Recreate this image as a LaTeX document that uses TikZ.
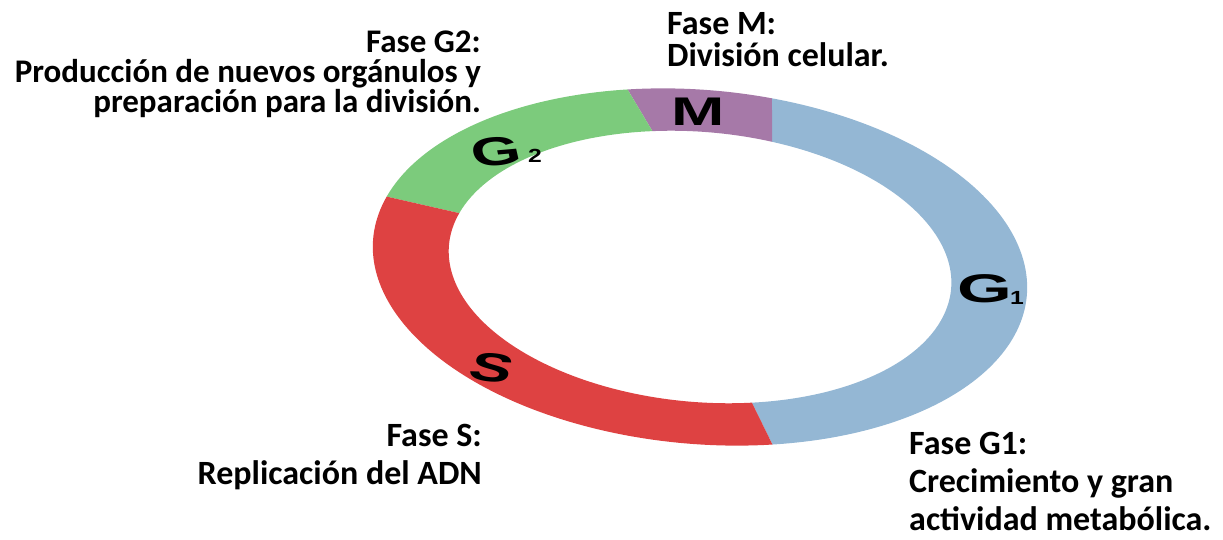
\documentclass[tikz,border=0pt]{standalone}
\usepackage{fontspec}
\setmainfont{Carlito}
\newfontfamily\ringfont{Liberation Sans}
\usetikzlibrary{positioning}

\definecolor{faseG1}{RGB}{148,183,212}
\definecolor{faseM}{RGB}{166,121,168}
\definecolor{faseG2}{RGB}{124,203,124}
\definecolor{faseS}{RGB}{222,66,66}

\tikzset{
  fasetext/.style={font=\bfseries\fontsize{34}{38}\selectfont, inner sep=0pt},
  ringletter/.style={font=\ringfont\bfseries\fontsize{40}{40}\selectfont, xscale=1.6, inner sep=0pt},
  ringindex/.style={font=\ringfont\bfseries\fontsize{19}{19}\selectfont, xscale=1.3, inner sep=0pt},
}

\begin{document}
\begin{tikzpicture}[x=1pt,y=1pt]
\useasboundingbox (0,0) rectangle (1223,540);

% the ring: outer start/end, inner start/end
\begin{scope}[shift={(700,273)}, rotate=-5]
  \foreach \s/\e/\si/\ei/\col in {-74.5/80/-75.4/76/faseG1, 80/105.5/76/103.6/faseM,
                                 105.5/166/103.6/166/faseG2, 166/285.5/166/284.6/faseS}
    \fill[\col] (\s:328 and 177) arc[start angle=\s, end angle=\e, x radius=328, y radius=177]
      -- (\ei:252 and 135) arc[start angle=\ei, end angle=\si, x radius=252, y radius=135] -- cycle;
\end{scope}

% letters on the ring
\node[ringletter] (m_letter) at (698,428) {M};
\node[ringletter, rotate=8] (g2_letter) at (496,388) {G};
\node[ringindex] (g2_index) at (535,384) {2};
\node[ringletter, xscale=1.1] (g1_letter) at (985,251) {G};
\node[ringindex] (g1_index) at (1017,242) {1};
\node[ringletter, rotate=-12] (s_letter) at (492,172) {S};

% phase descriptions
\node[fasetext, align=right, anchor=north east, font=\bfseries\fontsize{33}{30}\selectfont] (fase_g2) at (481,509)
  {Fase G2:\\Producción de nuevos orgánulos y\\preparación para la división.};
\node[fasetext, align=left, anchor=north west, font=\bfseries\fontsize{34}{32}\selectfont] (fase_m) at (667,528)
  {Fase M:\\División celular.};
\node[fasetext, align=right, anchor=north east] (fase_s) at (482,116)
  {Fase S:\\Replicación del ADN};
\node[fasetext, align=left, anchor=north west] (fase_g1) at (909,108)
  {Fase G1:\\Crecimiento y gran\\actividad metabólica.};

\end{tikzpicture}
\end{document}
